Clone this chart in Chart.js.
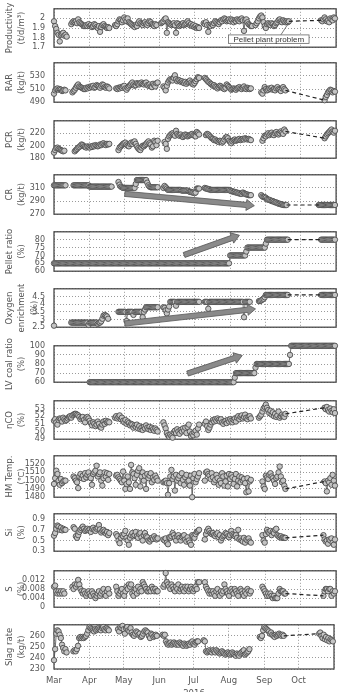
<!DOCTYPE html>
<html>
<head>
<meta charset="utf-8">
<script src="https://cdn.jsdelivr.net/npm/chart.js@4.4.1/dist/chart.umd.min.js"></script>
<style>
  html, body { margin: 0; padding: 0; background: #fff; overflow: hidden; }
  #wrap { position: relative; width: 341px; height: 692px; }
  #wrap canvas { position: absolute; left: 0; }
</style>
</head>
<body>
<div id="wrap"></div>
<script>
// Day index 0 = 1 Mar 2016, 245 = 1 Nov 2016
const monthLabels = ['Mar', 'Apr', 'May', 'Jun', 'Jul', 'Aug', 'Sep', 'Oct'];
const monthStarts = [0, 31, 61, 92, 122, 153, 184, 214, 245];

// Each series: first day of every run, then the daily values of that run

// Productivity (t/d/m3)
const prodStart = [0, 15, 53, 93, 130, 175, 232];
const prodVals = [
    [1.97,1.92,1.89,1.85,1.83,1.76,1.83,1.84,1.85,1.82,1.83,1.81],
    [1.94,1.96,1.97,1.96,1.97,1.95,1.99,1.96,1.95,1.94,1.93,1.92,1.92,1.93,1.92,1.94,1.92,1.93,1.91,1.92,1.94,1.93,1.91,1.90,1.92,1.86,1.91,1.93,1.94,1.92,1.91,1.90,1.91,1.90],
    [1.93,1.92,1.94,1.97,1.99,1.98,1.96,1.98,2.01,1.99,1.97,2.00,1.96,1.95,1.94,1.93,1.92,1.91,1.93,1.92,1.95,1.97,1.95,1.94,1.93,1.95,1.96,1.94,1.93,1.95,1.97,1.96,1.94,1.93,1.92,1.94,1.93],
    [1.95,1.96,1.97,1.99,2.00,1.85,1.96,1.95,1.94,1.93,1.94,1.95,1.93,1.85,1.95,1.94,1.92,1.93,1.94,1.95,1.93,1.94,1.95,1.97,1.95,1.93,1.94,1.92,1.93,1.91,1.92,1.90,1.91,1.90],
    [1.95,1.94,1.96,1.93,1.86,1.93,1.92,1.94,1.93,1.95,1.97,1.96,1.95,1.94,1.96,1.98,1.97,1.99,2.00,1.99,1.97,1.98,1.99,1.97,1.99,1.98,1.96,1.98,1.97,1.99,1.98,1.97,1.99,2.00,1.98,1.87,1.98,1.99,1.96,1.94,1.93,1.92,1.92],
    [1.93,1.95,1.97,2.00,2.02,2.03,2.01,1.96,1.92,1.90,1.94,1.95,1.94,1.93,1.95,1.94,1.92,1.93,1.95,1.96,1.98,1.99,1.97,1.96,1.98,1.97,1.96,1.97,1.96,1.97],
    [1.98,1.97,1.99,2.01,1.99,1.97,1.98,1.96,2.00,1.99,1.98,2.01,2.00]
];

// RAR (kg/t)
const rarStart = [0, 16, 54, 95, 131, 180, 235];
const rarVals = [
    [503,508,510,511,509,510,509,507,508,509,508],
    [505,507,509,512,515,517,514,513,512,511,510,510,512,511,513,512,514,513,515,512,513,516,515,514,512,515,517,516,513,512,514,513,511],
    [511,510,512,511,513,512,514,515,511,509,512,514,516,518,520,517,515,516,519,518,517,519,520,518,517,519,520,516,515,517,514,513,518,516,514,519,520],
    [514,512,508,515,520,523,525,524,523,527,531,525,522,524,523,521,522,520,519,521,518,520,521,523,520,518,517,519,522,525,528,527],
    [527,525,523,521,520,518,517,515,516,514,513,511,513,515,514,512,511,510,512,517,515,513,511,509,510,511,510,509,511,512,513,511,510,512,514,511,510,512,511,510,511],
    [505,503,508,513,510,508,509,511,510,512,509,510,508,511,513,510,509,507,511,513,510,508],
    [493,498,501,505,507,509,508,505,507,506]
];

// PCR (kg/t)
const pcrStart = [0, 18, 56, 96, 132, 181, 235];
const pcrVals = [
    [189,193,196,197,195,194,193,192,191,192],
    [191,193,195,197,198,200,202,201,199,198,197,199,198,197,199,198,200,199,201,200,199,200,202,201,203,204,202,201,203,202,203],
    [193,197,199,201,203,204,205,202,200,199,203,205,203,206,207,203,199,196,194,193,197,200,199,201,203,205,207,204,202,197,199,208,206,201,208],
    [206,203,195,211,215,217,219,220,218,216,224,219,217,216,218,215,214,216,218,217,215,216,217,218,219,217,216,215,222,220,218],
    [217,219,218,216,214,212,211,209,210,208,207,206,208,207,205,207,210,213,214,212,208,206,204,207,209,210,208,209,210,211,209,210,211,210,212,211,210,211,210,209],
    [208,212,216,215,218,220,217,219,221,218,217,220,222,219,218,220,223,221,219,226,223],
    [212,215,218,220,222,224,226,223,221,224]
];

// CR (kg/t)
const crStart = [0, 17, 56, 95, 131, 180, 230];
const crVals = [
    [314,314,314,314,314,314,314,314,314,314,314],
    [314,314,314,314,314,314,314,314,314,314,314,314,314,314,
     312,312,312,312,312,312,312,312,312,312,312,312,312,312,312,312,312,312,312,312],
    [319,315,312,311,310,310,310,310,310,310,310,310,310,310,310,316,
     322,322,322,322,322,322,322,322,322,318,314,312,311,311,311,311,311,311,311],
    [310,313,311,309,307,307,307,307,307,307,307,307,307,307,307,307,
     306,306,306,306,306,306,305,304,304,303,303,302,303,309,309,309],
    [310,309,309,308,308,307,307,307,307,307,307,307,307,307,307,307,307,307,307,307,307,307,
     306,305,305,304,304,303,303,302,302,301,301,303,302,301,300,300,299,299,299],
    [299,297,296,296,295,293,292,292,291,290,290,289,288,288,287,286,286,285,285,284,284,284,284],
    [284,284,284,284,284,284,284,284,284,284,284,284,284,284,284]
];

// Pellet ratio (%)
const pelletStart = [0, 232];
const pelletVals = [
    [65,65,65,65,65,65,65,65,65,65,65,65,65,65,65,65,65,
     65,65,65,65,65,65,65,65,65,65,65,65,65,65,65,65,65,
     65,65,65,65,65,65,65,65,65,65,65,65,65,65,65,65,65,
     65,65,65,65,65,65,65,65,65,65,65,65,65,65,65,65,65,
     65,65,65,65,65,65,65,65,65,65,65,65,65,65,65,65,65,
     65,65,65,65,65,65,65,65,65,65,65,65,65,65,65,65,65,
     65,65,65,65,65,65,65,65,65,65,65,65,65,65,65,65,65,
     65,65,65,65,65,65,65,65,65,65,65,65,65,65,65,65,65,
     65,65,65,65,65,65,65,65,65,65,65,65,65,65,65,65,65,
     70,70,70,70,70,70,70,70,70,70,70,70,70,70,72.5,
     75,75,75,75,75,75,75,75,75,75,75,75,75,75,75,75,77.5,
     80,80,80,80,80,80,80,80,80,80,80,80,80,80,80,80,80,80,80],
    [80,80,80,80,80,80,80,80,80,80,80,80,80]
];

// Oxygen enrichment (%)
const o2Start = [0, 15, 56, 95, 131, 178, 232];
const o2Vals = [
    [2.6],
    [2.8,2.8,2.8,2.8,2.8,2.8,2.8,2.8,2.8,2.8,2.8,2.8,2.8,2.8,2.8,2.65,2.8,2.8,2.8,2.8,2.8,2.8,2.8,2.72,2.8,2.8,2.88,3.05,3.25,3.3,3.25,3.2,3.05],
    [3.5,3.5,3.5,3.5,3.5,3.5,3.5,2.9,3.5,3.5,3.5,3.5,3.5,3.3,3.5,3.5,3.5,3.5,3.5,3.5,3.5,3.15,3.5,3.65,
     3.8,3.8,3.8,3.8,3.8,3.8,3.8,3.8,3.8,3.8,3.8],
    [3.8,3.75,3.6,3.4,3.65,3.85,4.15,4.15,4.15,4.15,4.15,3.9,
     4.15,4.15,4.15,4.15,4.15,4.15,4.15,4.15,4.15,4.15,4.15,4.15,4.15,4.15,4.15,4.15,4.15,4.15,4.15,4.15],
    [4.15,4.15,4.15,3.7,4.15,4.15,4.15,4.15,4.15,4.15,4.15,4.15,4.15,4.15,4.15,4.15,4.15,4.15,4.15,4.15,
     4.15,4.15,4.15,4.15,4.15,4.15,4.15,4.15,4.15,4.15,4.15,4.15,4.15,4.15,3.15,4.15,4.15,4.15,4.15,4.15],
    [4.2,4.2,4.25,4.3,4.35,4.45,4.6,4.6,4.6,4.6,4.6,4.6,4.6,4.6,4.6,4.6,4.6,4.6,4.6,4.6,4.6,4.6,4.6,4.6,4.6,4.6],
    [4.6,4.6,4.6,4.6,4.6,4.6,4.6,4.6,4.6,4.6,4.6,4.6,4.6]
];

// LV coal ratio (%)
const lvStart = [31];
const lvVals = [
    [60,60,60,60,60,60,60,60,60,60,60,60,60,60,60,60,60,60,
     60,60,60,60,60,60,60,60,60,60,60,60,60,60,60,60,60,60,
     60,60,60,60,60,60,60,60,60,60,60,60,60,60,60,60,60,60,
     60,60,60,60,60,60,60,60,60,60,60,60,60,60,60,60,60,60,
     60,60,60,60,60,60,60,60,60,60,60,60,60,60,60,60,60,60,
     60,60,60,60,60,60,60,60,60,60,60,60,60,60,60,60,60,60,
     60,60,60,60,60,60,60,60,60,60,60,60,60,60,60,60,60,60,
     65,70,70,70,70,70,70,70,70,70,70,70,70,70,70,70,70,70,76,
     80,80,80,80,80,80,80,80,80,80,80,80,80,80,80,80,80,80,80,80,80,80,80,80,80,80,80,80,80,90,
     100,100,100,100,100,100,100,100,100,100,100,100,100,100,100,100,100,100,100,100,
     100,100,100,100,100,100,100,100,100,100,100,100,100,100,100,100,100,100,100]
];

// eta CO (%)
const etaStart = [0, 53, 95, 131, 178, 235];
const etaVals = [
    [51.4,51.6,51.2,50.9,51.5,51.7,51.6,51.3,51.8,51.6,51.4,51.5,51.7,51.9,52.0,51.8,52.1,52.2,52.3,52.3,52.2,
     52.1,51.9,51.6,51.8,51.9,51.5,51.2,51.8,51.9,51.7,51.4,51.1,50.8,51.2,51.0,50.7,50.9,51.3,51.0,50.6,
     50.5,50.9,51.3,51.0,51.4,51.2,51.3,51.2],
    [51.8,52.0,51.7,51.9,52.1,51.6,51.8,51.4,51.2,51.5,51.0,51.3,51.1,50.8,51.0,50.9,50.5,50.8,50.6,50.9,
     50.4,50.7,50.3,50.5,50.2,50.6,50.4,50.8,50.5,50.3,50.6,50.2,50.5,50.3,50.1,50.4,50.2,50.0],
    [51.2,50.8,50.4,49.8,49.5,49.3,49.6,49.4,49.2,49.9,50.1,49.8,50.3,50.0,49.7,50.2,50.0,50.4,50.1,50.5,
     49.8,50.6,50.9,50.0,49.4,49.7,49.5,49.9,50.1,49.6,50.4,50.9],
    [51.0,51.3,50.7,50.2,50.5,50.9,51.2,51.5,51.3,51.6,51.4,51.7,51.5,51.3,51.6,51.2,51.0,51.3,51.4,51.1,
     51.5,51.3,51.6,51.4,51.2,51.5,51.7,51.3,51.8,52.0,51.6,51.9,52.1,51.7,51.9,52.2,51.8,51.6,51.9,52.0,51.7],
    [51.8,52.0,52.2,52.6,53.0,53.2,53.5,53.1,52.8,52.4,52.7,52.2,52.5,52.0,52.3,51.9,52.1,52.6,51.8,52.0,52.2,52.0,51.9,52.3],
    [53.1,52.9,53.2,52.8,52.6,53.0,52.7,52.5,52.9,52.4]
];

// HM temperature (deg C)
const hmStart = [0, 17, 54, 95, 131, 181, 235];
const hmVals = [
    [1496,1503,1512,1508,1500,1495,1502,1497,1499,1500,1500],
    [1505,1503,1500,1498,1491,1505,1508,1503,1506,1502,1509,1504,1507,1510,1505,1503,1495,1508,1510,1512,
     1518,1505,1508,1510,1500,1494,1503,1510,1505,1509,1501,1508],
    [1506,1507,1504,1502,1500,1498,1511,1500,1490,1496,1505,1498,1490,1519,1510,1508,1503,1495,1507,1512,
     1515,1493,1505,1510,1500,1506,1490,1508,1503,1506,1509,1498,1504,1501,1506,1503,1500],
    [1498,1499,1500,1497,1483,1497,1505,1513,1502,1505,1488,1507,1500,1503,1506,1497,1509,1501,1495,1504,
     1507,1499,1500,1494,1506,1480,1503,1508,1498,1502,1505,1509],
    [1500,1510,1511,1508,1506,1502,1509,1504,1498,1501,1507,1503,1495,1500,1497,1509,1505,1494,1499,1506,
     1493,1508,1502,1507,1504,1496,1502,1508,1493,1500,1505,1498,1504,1500,1502,1497,1486,1503,1487,1499,1501],
    [1499,1493,1490,1506,1504,1502,1507,1509,1505,1503,1500,1496,1503,1505,1510,1517,1505,1498,1500,1494,1490],
    [1499,1497,1487,1500,1498,1503,1495,1507,1500,1494]
];

// Si (%)
const siStart = [0, 17, 54, 95, 131, 181, 234];
const siVals = [
    [0.59,0.64,0.72,0.78,0.76,0.70,0.74,0.69,0.72,0.70,0.70],
    [0.75,0.72,0.58,0.55,0.60,0.66,0.70,0.73,0.76,0.72,0.68,0.70,0.72,0.69,0.71,0.66,0.72,0.74,0.70,0.68,
     0.72,0.74,0.79,0.71,0.65,0.68,0.70,0.67,0.63,0.66,0.60,0.64],
    [0.62,0.58,0.50,0.45,0.55,0.60,0.58,0.62,0.68,0.55,0.50,0.42,0.55,0.60,0.64,0.58,0.60,0.66,0.58,0.55,
     0.62,0.64,0.56,0.50,0.60,0.64,0.58,0.56,0.50,0.48,0.52,0.55,0.53,0.58,0.54,0.52,0.54],
    [0.52,0.50,0.54,0.46,0.43,0.56,0.55,0.58,0.64,0.60,0.55,0.50,0.58,0.60,0.55,0.50,0.56,0.58,0.60,0.52,
     0.48,0.56,0.50,0.46,0.42,0.60,0.58,0.55,0.62,0.66,0.68,0.70],
    [0.52,0.62,0.68,0.72,0.68,0.64,0.62,0.64,0.60,0.58,0.62,0.64,0.56,0.60,0.50,0.55,0.58,0.60,0.64,0.62,
     0.58,0.56,0.60,0.68,0.62,0.60,0.58,0.60,0.55,0.70,0.52,0.54,0.50,0.48,0.55,0.46,0.52,0.50,0.54,0.48,0.46],
    [0.60,0.50,0.46,0.62,0.70,0.66,0.64,0.68,0.60,0.66,0.64,0.70,0.72,0.60,0.58,0.56,0.58,0.55,0.56,0.55,0.55],
    [0.60,0.52,0.48,0.50,0.44,0.52,0.50,0.54,0.46,0.42,0.52]
];

// S (%)
const sStart = [0, 16, 54, 95, 131, 181, 234];
const sVals = [
    [0.009,0.0095,0.007,0.006,0.007,0.006,0.007,0.006,0.007,0.006],
    [0.009,0.008,0.010,0.009,0.010,0.012,0.010,0.008,0.007,0.006,0.007,0.006,0.005,0.006,0.007,0.006,0.005,
     0.007,0.006,0.005,0.004,0.005,0.006,0.007,0.005,0.006,0.007,0.008,0.006,0.005,0.007,0.008,0.006],
    [0.009,0.007,0.005,0.006,0.007,0.008,0.006,0.005,0.007,0.009,0.008,0.010,0.009,0.010,0.006,0.005,0.007,
     0.008,0.006,0.009,0.007,0.008,0.007,0.011,0.010,0.009,0.008,0.007,0.007,0.008,0.007,0.009,0.008,0.007,
     0.008,0.007,0.007],
    [0.009,0.010,0.015,0.011,0.010,0.009,0.008,0.010,0.009,0.008,0.007,0.009,0.008,0.010,0.007,0.008,0.009,
     0.008,0.007,0.009,0.008,0.009,0.007,0.008,0.009,0.008,0.007,0.008,0.009,0.008,0.011,0.011],
    [0.011,0.009,0.008,0.007,0.006,0.007,0.006,0.007,0.006,0.005,0.007,0.008,0.006,0.005,0.007,0.006,0.007,
     0.010,0.008,0.007,0.006,0.005,0.007,0.008,0.007,0.006,0.008,0.007,0.006,0.005,0.007,0.008,0.007,0.006,
     0.005,0.007,0.006,0.008,0.007,0.006,0.007],
    [0.009,0.008,0.007,0.006,0.005,0.006,0.005,0.006,0.005,0.004,0.005,0.004,0.004,0.004,0.006,0.008,0.007,
     0.007,0.007,0.006,0.006],
    [0.005,0.007,0.008,0.008,0.007,0.008,0.008,0.005,0.007,0.006,0.007]
];

// Slag rate (kg/t)
const slagStart = [0, 17, 56, 95, 131, 180, 232];
const slagVals = [
    [238,248,262,265,264,261,258,252,249,246,248,245],
    [246,247,246,248,251,258,259,258,259,258,259,260,262,265,268,267,266,265,264,266,265,266,267,266,265,267,
     268,266,265,267,266,265],
    [266,264,268,267,269,266,262,267,268,265,264,267,263,261,260,262,264,263,261,262,259,260,262,264,265,264,
     263,260,258,262,261,259,260,261,260],
    [261,260,261,255,253,252,253,254,252,253,254,253,252,253,252,254,253,252,251,253,252,251,252,253,252,254,
     255,253,252,254,255,255],
    [256,255,246,245,246,247,246,245,247,246,245,247,246,245,244,245,246,245,244,243,244,245,244,243,244,245,
     244,243,242,244,243,242,244,245,246,247,243,244,245,246,248],
    [259,258,260,265,268,267,266,265,264,262,263,261,260,259,261,260,261,262,261,260,261,260],
    [262,263,260,258,261,257,259,256,258,255,257,256,255]
];

// Trend arrows: panel, day from, value from, day to, value to
const trendArrows = [
    [3, 61.5, 301, 174, 283],
    [4, 113, 70.3, 161, 82.8],
    [5, 61.5, 2.74, 175, 3.69],
    [6, 116, 69.5, 163.5, 89.4]
];
const noteText = 'Pellet plant problem';

// panel layout: top and bottom of each plot box in page pixels
const panelBoxes = [
    [3, 53], [57, 108], [115, 164], [169, 220], [226, 277], [283, 333],
    [340, 388], [395, 445], [450, 503], [508, 557], [565, 613], [619, 669]
];

const panels = [
    { title: ['Productivity', '(t/d/m³)'], min: 1.7, max: 2.1, step: 0.1, starts: prodStart, runs: prodVals, bridge: true },
    { title: ['RAR', '(kg/t)'], min: 490, max: 550, step: 20, starts: rarStart, runs: rarVals, bridge: true },
    { title: ['PCR', '(kg/t)'], min: 180, max: 240, step: 20, starts: pcrStart, runs: pcrVals, bridge: true },
    { title: ['CR', '(kg/t)'], min: 270, max: 330, step: 20, starts: crStart, runs: crVals, bridge: true },
    { title: ['Pellet ratio', '(%)'], min: 60, max: 85, step: 5, starts: pelletStart, runs: pelletVals, bridge: true },
    { title: ['Oxygen', 'enrichment', '(%)'], min: 2.5, max: 5, step: 0.5, starts: o2Start, runs: o2Vals, bridge: true },
    { title: ['LV coal ratio', '(%)'], min: 60, max: 100, step: 10, starts: lvStart, runs: lvVals, bridge: false, showTop: true },
    { title: ['ηCO', '(%)'], min: 49, max: 54, step: 1, starts: etaStart, runs: etaVals, bridge: true },
    { title: ['HM Temp.', '(℃)'], min: 1480, max: 1530, step: 10, starts: hmStart, runs: hmVals, bridge: true },
    { title: ['Si', '(%)'], min: 0.3, max: 1.0, step: 0.2, starts: siStart, runs: siVals, bridge: true },
    { title: ['S', '(%)'], min: 0, max: 0.016, step: 0.004, starts: sStart, runs: sVals, bridge: true },
    { title: ['Slag rate', '(kg/t)'], min: 230, max: 270, step: 10, starts: slagStart, runs: slagVals, bridge: true }
];

const textColor = '#555';
const gridColor = '#9a9a9a';
const lineColor = '#4d4d4d';
const tickFont = { family: 'DejaVu Sans', size: 8 };
const titleFont = { family: 'DejaVu Sans', size: 8.5, lineHeight: 1.5 };

function buildPoints(starts, runs) {
    const pts = [];
    runs.forEach((run, k) => {
        if (k > 0) pts.push({ x: starts[k] - 0.5, y: null });
        run.forEach((v, j) => pts.push({ x: starts[k] + j, y: v }));
    });
    return pts;
}

// dashed link over the Sep/Oct gap: last value before it to first value after it
function bridgePoints(starts, runs) {
    const n = runs.length;
    const a = runs[n - 2], b = runs[n - 1];
    return [
        { x: starts[n - 2] + a.length - 1, y: a[a.length - 1] },
        { x: starts[n - 1], y: b[0] }
    ];
}

// tick values counted up from the axis minimum, so Si gets 0.3, 0.5, 0.7, 0.9
function yTicks(p) {
    const out = [];
    for (let k = 0; p.min + k * p.step <= p.max + 1e-9; k++) {
        out.push({ value: +(p.min + k * p.step).toFixed(6) });
    }
    if (Math.abs(out[out.length - 1].value - p.max) > 1e-9) out.push({ value: p.max });
    return out;
}

const fmt = v => String(+v.toFixed(4));

function drawArrow(ctx, x0, y0, x1, y1) {
    const ang = Math.atan2(y1 - y0, x1 - x0);
    const len = Math.hypot(x1 - x0, y1 - y0);
    const sw = 2.6, hw = 5.5, hl = 8;
    ctx.save();
    ctx.translate(x0, y0);
    ctx.rotate(ang);
    ctx.beginPath();
    ctx.moveTo(0, -sw);
    ctx.lineTo(len - hl, -sw);
    ctx.lineTo(len - hl, -hw);
    ctx.lineTo(len, 0);
    ctx.lineTo(len - hl, hw);
    ctx.lineTo(len - hl, sw);
    ctx.lineTo(0, sw);
    ctx.closePath();
    ctx.fillStyle = '#8a8a8a';
    ctx.fill();
    ctx.strokeStyle = '#5c5c5c';
    ctx.lineWidth = 0.8;
    ctx.stroke();
    ctx.restore();
}

function decor(idx) {
    return {
        id: 'decor' + idx,
        beforeDatasetsDraw(chart) {
            const { ctx, chartArea: a } = chart;
            ctx.save();
            ctx.strokeStyle = '#4a4a4a';
            ctx.lineWidth = 1.3;
            ctx.strokeRect(a.left, a.top, a.right - a.left, a.bottom - a.top);
            ctx.restore();
        },
        afterDatasetsDraw(chart) {
            const { ctx, scales: { x, y } } = chart;
            trendArrows.filter(t => t[0] === idx).forEach(t => {
                drawArrow(ctx, x.getPixelForValue(t[1]), y.getPixelForValue(t[2]),
                    x.getPixelForValue(t[3]), y.getPixelForValue(t[4]));
            });
            if (idx === 0) {
                // note box under the productivity line
                const bx0 = x.getPixelForValue(151.5), bx1 = x.getPixelForValue(221.5);
                const by0 = y.getPixelForValue(1.828), by1 = y.getPixelForValue(1.74);
                ctx.save();
                ctx.strokeStyle = '#555';
                ctx.lineWidth = 0.8;
                ctx.beginPath();
                ctx.moveTo(x.getPixelForValue(197), by0);
                ctx.lineTo(x.getPixelForValue(204), y.getPixelForValue(1.956));
                ctx.stroke();
                ctx.fillStyle = '#fff';
                ctx.fillRect(bx0, by0, bx1 - bx0, by1 - by0);
                ctx.strokeStyle = '#666';
                ctx.strokeRect(bx0, by0, bx1 - bx0, by1 - by0);
                ctx.fillStyle = '#333';
                ctx.font = '8px "Liberation Sans"';
                ctx.textAlign = 'center';
                ctx.textBaseline = 'middle';
                ctx.fillText(noteText, (bx0 + bx1) / 2, (by0 + by1) / 2 + 0.5);
                ctx.restore();
            }
        }
    };
}

const wrap = document.getElementById('wrap');

panels.forEach((p, i) => {
    const box = panelBoxes[i];
    const last = i === panels.length - 1;
    const top = box[0] - 8;
    const h = (box[1] - box[0]) + 8 + (last ? 30 : 8);
    const canvas = document.createElement('canvas');
    canvas.width = 341;
    canvas.height = h;
    canvas.style.top = top + 'px';
    wrap.appendChild(canvas);

    const datasets = [];
    if (p.bridge) {
        datasets.push({
            data: bridgePoints(p.starts, p.runs),
            showLine: true,
            borderColor: '#222',
            borderWidth: 1.2,
            borderDash: [4, 3],
            pointRadius: 0,
            clip: false
        });
    }
    datasets.push({
        data: buildPoints(p.starts, p.runs),
        showLine: true,
        spanGaps: false,
        borderColor: lineColor,
        borderWidth: 0.8,
        pointRadius: 2.7,
        pointBackgroundColor: '#c4c4c4',
        pointBorderColor: lineColor,
        pointBorderWidth: 0.9,
        clip: false
    });

    new Chart(canvas, {
        type: 'scatter',
        data: { datasets },
        options: {
            responsive: false,
            animation: false,
            events: [],
            layout: { padding: { top: 8, bottom: last ? 0 : 8, left: 0, right: 4 } },
            plugins: { legend: { display: false }, tooltip: { enabled: false } },
            scales: {
                x: {
                    type: 'linear',
                    min: 0,
                    max: 245,
                    afterBuildTicks: s => { s.ticks = monthStarts.map(v => ({ value: v })); },
                    afterFit: s => { s.height = last ? 30 : 0; },
                    grid: { color: gridColor, lineWidth: 1, drawTicks: false },
                    border: { display: false, dash: [1, 2] },
                    ticks: {
                        display: last,
                        autoSkip: false,
                        maxRotation: 0,
                        padding: 7,
                        color: textColor,
                        font: { family: 'DejaVu Sans', size: 8.5 },
                        callback: (v, k) => monthLabels[k] || ''
                    },
                    title: {
                        display: last,
                        text: '2016',
                        color: textColor,
                        font: { family: 'DejaVu Sans', size: 8.5 },
                        padding: { top: 0, bottom: 0 }
                    }
                },
                y: {
                    min: p.min,
                    max: p.max,
                    afterBuildTicks: s => { s.ticks = yTicks(p); },
                    afterFit: s => { s.width = 54; },
                    grid: { color: gridColor, lineWidth: 1, drawTicks: false },
                    border: { display: false, dash: [1, 2] },
                    ticks: {
                        autoSkip: false,
                        padding: 9,
                        color: textColor,
                        font: tickFont,
                        callback: v => (Math.abs(v - p.max) < 1e-9 && !p.showTop) ? '' : fmt(v)
                    },
                    title: {
                        display: true,
                        text: p.title,
                        color: textColor,
                        font: titleFont,
                        padding: { top: 3, bottom: 0 }
                    }
                }
            }
        },
        plugins: [decor(i)]
    });
});
</script>
</body>
</html>
